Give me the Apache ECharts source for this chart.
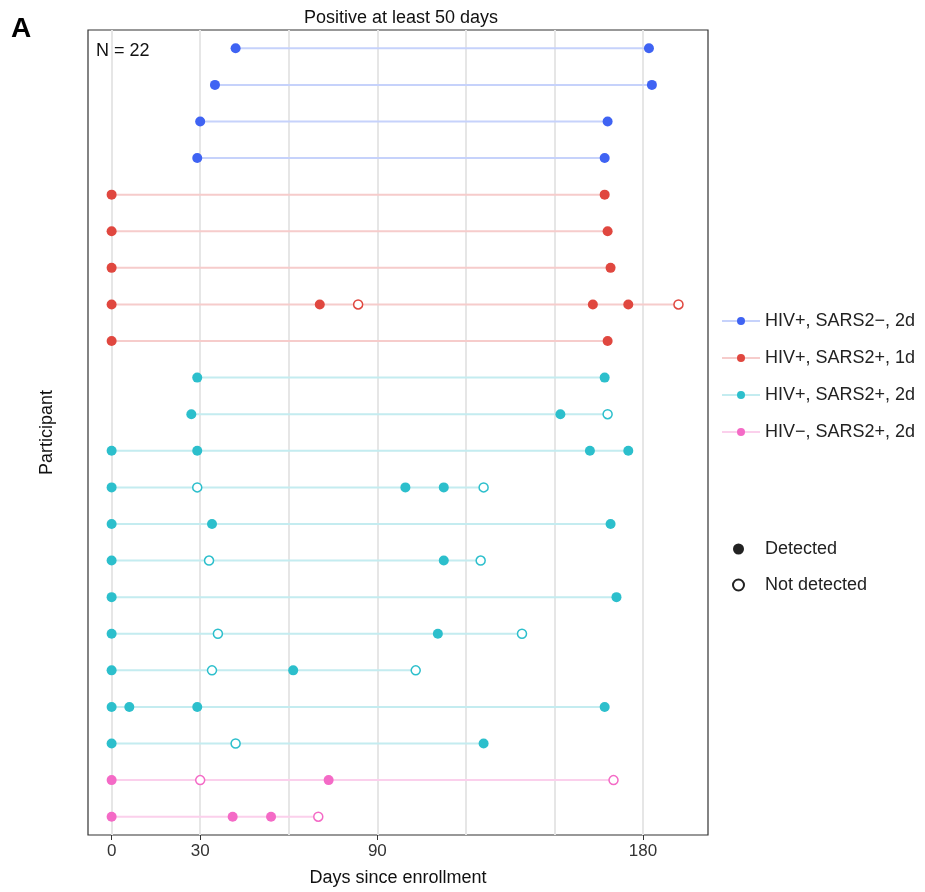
<!DOCTYPE html>
<html>
<head>
    <meta charset="UTF-8">
    <script src="https://cdn.jsdelivr.net/npm/echarts@6/dist/echarts.min.js"></script>
</head>
<body style="margin:0">
    <div id="chart" style="width:925px;height:892px;"></div>
    <script type="text/javascript">
        var groupNames = ['HIV+, SARS2\u2212, 2d', 'HIV+, SARS2+, 1d', 'HIV+, SARS2+, 2d', 'HIV\u2212, SARS2+, 2d'];
        var groupColors = ['#3f63f3', '#e0473f', '#2cbfcc', '#f46ac6'];
        var lineColors = ['#c6d2fb', '#f6cccb', '#c4ecf0', '#fbd0ec'];
        // one entry per participant, top to bottom
        var rowGroup = [0, 0, 0, 0, 1, 1, 1, 1, 1, 2, 2, 2, 2, 2, 2, 2, 2, 2, 2, 2, 3, 3];
        var rowDays = [
            [42, 182], [35, 183], [30, 168], [29, 167],
            [0, 167], [0, 168], [0, 169], [0, 70.5, 83.5, 163, 175, 192], [0, 168],
            [29, 167], [27, 152, 168], [0, 29, 162, 175], [0, 29, 99.5, 112.5, 126],
            [0, 34, 169], [0, 33, 112.5, 125], [0, 171], [0, 36, 110.5, 139],
            [0, 34, 61.5, 103], [0, 6, 29, 167], [0, 42, 126],
            [0, 30, 73.5, 170], [0, 41, 54, 70]
        ];
        // 1 = detected, 0 = not detected
        var rowDetected = [
            [1, 1], [1, 1], [1, 1], [1, 1],
            [1, 1], [1, 1], [1, 1], [1, 1, 0, 1, 1, 0], [1, 1],
            [1, 1], [1, 1, 0], [1, 1, 1, 1], [1, 0, 1, 1, 0],
            [1, 1, 1], [1, 0, 1, 0], [1, 1], [1, 0, 1, 0],
            [1, 0, 1, 0], [1, 1, 1, 1], [1, 0, 1],
            [1, 0, 1, 0], [1, 1, 1, 0]
        ];
        var xLabels = [0, 30, 90, 180];
        var gridDays = [0, 30, 60, 90, 120, 150, 180];

        var rowIds = rowGroup.map(function (g, i) { return 'P' + (i + 1); });
        var series = [{
            type: 'line', data: [], z: 0,
            markLine: {
                silent: true, symbol: 'none', label: { show: false }, z: 0,
                lineStyle: { color: '#e6e6e6', width: 2, type: 'solid' },
                data: gridDays.map(function (v) { return { xAxis: v }; })
            }
        }];
        groupNames.forEach(function (name, g) {
            var lineData = [], filled = [], open = [];
            rowGroup.forEach(function (rg, i) {
                if (rg !== g) return;
                var d = rowDays[i];
                lineData.push([Math.min.apply(null, d), rowIds[i]], [Math.max.apply(null, d), rowIds[i]], null);
                d.forEach(function (v, k) {
                    (rowDetected[i][k] ? filled : open).push([v, rowIds[i]]);
                });
            });
            series.push({
                name: name, type: 'line', data: lineData, connectNulls: false,
                symbol: 'circle', symbolSize: 10, showSymbol: false,
                itemStyle: { color: groupColors[g] },
                lineStyle: { color: lineColors[g], width: 2 }, z: 2
            });
            series.push({
                type: 'scatter', data: filled, symbol: 'circle', symbolSize: 10,
                itemStyle: { color: groupColors[g], opacity: 1 }, z: 5
            });
            series.push({
                type: 'scatter', data: open, symbol: 'circle', symbolSize: 9,
                itemStyle: { color: '#fff', borderColor: groupColors[g], borderWidth: 1.5, opacity: 1 }, z: 5
            });
        });
        series.push({ name: 'Detected', type: 'scatter', data: [], itemStyle: { color: '#222', opacity: 1 } });
        series.push({ name: 'Not detected', type: 'scatter', data: [], itemStyle: { color: '#fff', borderColor: '#222', borderWidth: 1.5, opacity: 1 } });

        var myChart = echarts.init(document.getElementById('chart'));
        myChart.setOption({
            animation: false,
            textStyle: { fontFamily: 'Liberation Sans, Arial, sans-serif' },
            title: [
                { text: 'Positive at least 50 days', left: 396, top: 4, textAlign: 'center',
                  textStyle: { fontSize: 18, fontWeight: 'normal', color: '#111' } },
                { text: 'A', left: 6, top: 10, textStyle: { fontSize: 28, fontWeight: 'bold', color: '#000' } },
                { text: 'N = 22', left: 91, top: 37, textStyle: { fontSize: 18, fontWeight: 'normal', color: '#111' } }
            ],
            legend: [
                { data: groupNames, orient: 'vertical', left: 716, top: 307, itemGap: 19,
                  itemWidth: 38, itemHeight: 10, textStyle: { fontSize: 18, color: '#222' } },
                { data: ['Detected', 'Not detected'], orient: 'vertical', left: 727, top: 535, itemGap: 18,
                  itemWidth: 11, itemHeight: 11, textStyle: { fontSize: 18, color: '#222', padding: [0, 0, 0, 16] } }
            ],
            grid: { left: 88, right: 217, top: 30, bottom: 51, show: true, borderColor: '#333', borderWidth: 1.2 },
            xAxis: {
                type: 'value', min: -8, max: 202,
                name: 'Days since enrollment', nameLocation: 'middle', nameGap: 34,
                nameTextStyle: { fontSize: 18, color: '#111' },
                axisLine: { show: false }, splitLine: { show: false },
                axisTick: { show: true, customValues: xLabels, length: 5, lineStyle: { color: '#333' } },
                axisLabel: { customValues: xLabels, fontSize: 17, color: '#333' }
            },
            yAxis: {
                type: 'category', data: rowIds, inverse: true, boundaryGap: ['2%', '2%'],
                name: 'Participant', nameLocation: 'middle', nameGap: 32,
                nameTextStyle: { fontSize: 18, color: '#111' },
                axisLine: { show: false }, axisTick: { show: false }, axisLabel: { show: false }
            },
            series: series
        });
    </script>
</body>
</html>
